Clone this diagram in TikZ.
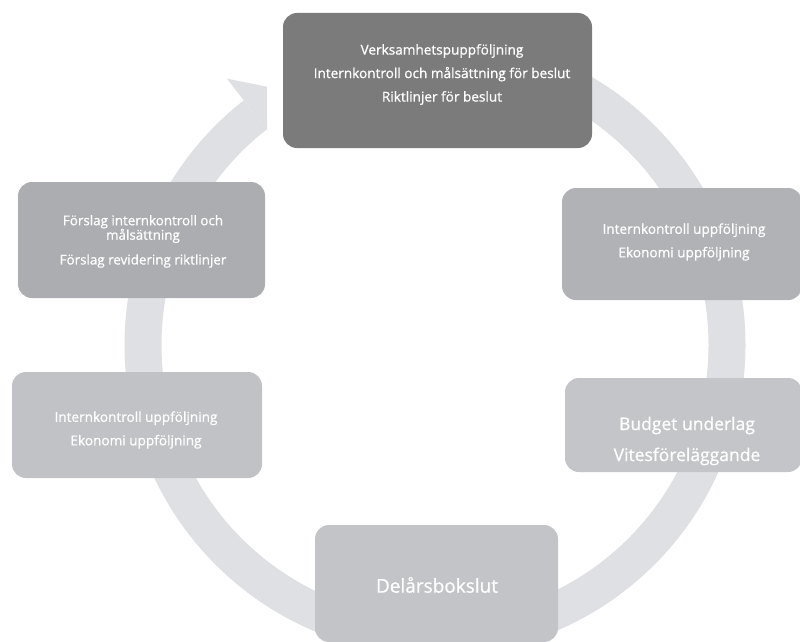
\documentclass[tikz,border=0pt]{standalone}
\usepackage{fontspec}
\setmainfont{Open Sans}[FakeBold=0.8]
\begin{document}
\begin{tikzpicture}[x=1pt,y=-1pt,
  box/.style={rectangle, rounded corners=14pt, draw=none, inner sep=0pt},
  txt/.style={text=white, align=center, inner sep=0pt, font=\fontsize{13.6}{23.5}\selectfont},
  bigtxt/.style={text=white, align=center, inner sep=0pt, font=\fontsize{17.5}{31}\selectfont}]
\definecolor{ringc}{HTML}{DFE0E3}
\definecolor{c1}{HTML}{7B7B7C}
\definecolor{c2}{HTML}{B0B2B5}
\definecolor{c3}{HTML}{ABADB0}
\definecolor{c4}{HTML}{C0C2C5}
\definecolor{c5}{HTML}{C3C5C8}
\definecolor{c6}{HTML}{C2C4C7}
\useasboundingbox (0,0) rectangle (800,642);
\fill[white] (0,0) rectangle (800,642);
\coordinate (ctr) at (435,345);
% ring arrow
\draw[ringc, line width=37pt] (ctr) ++(-90:292) arc[start angle=-90, end angle=232, radius=292];
\begin{scope}
  \clip (0,0) rectangle (267,642);
  \fill[ringc] ([shift={(232:338)}]ctr) -- ([shift={(240.5:291)}]ctr) -- ([shift={(232:248)}]ctr) -- cycle;
\end{scope}
% boxes
\node[box, fill=c1, minimum width=309pt, minimum height=135pt] (top) at (437.5,80.5) {};
\node[box, fill=c2, minimum width=240pt, minimum height=112pt] (ru) at (682,244) {};
\node[box, fill=c5, minimum width=237pt, minimum height=94pt] (rl) at (683.5,425) {};
\node[box, fill=c6, minimum width=243pt, minimum height=117pt] (bot) at (436.5,583.5) {};
\node[box, fill=c4, minimum width=250pt, minimum height=106pt] (ll) at (137,425) {};
\node[box, fill=c3, minimum width=247pt, minimum height=116pt] (lu) at (141.5,240) {};
% texts
\node[txt] (ttop) at (442,74.5) {Verksamhetspuppföljning\\Internkontroll och målsättning för beslut\\Riktlinjer för beslut};
\node[txt] (tru) at (684,242) {Internkontroll uppföljning\\Ekonomi uppföljning};
\node[bigtxt] (trl) at (687,441) {Budget underlag\\Vitesföreläggande};
\node[text=white, inner sep=0pt, font=\fontsize{19}{22}\selectfont] (tbot) at (437,585) {Delårsbokslut};
\node[txt] (tll) at (136,430) {Internkontroll uppföljning\\Ekonomi uppföljning};
\node[txt, font=\fontsize{13.4}{14.5}\selectfont] (tlu) at (143,229) {Förslag internkontroll och\\målsättning};
\node[txt, font=\fontsize{13.4}{14.5}\selectfont] (tlu2) at (143,261) {Förslag revidering riktlinjer};
\end{tikzpicture}
\end{document}
